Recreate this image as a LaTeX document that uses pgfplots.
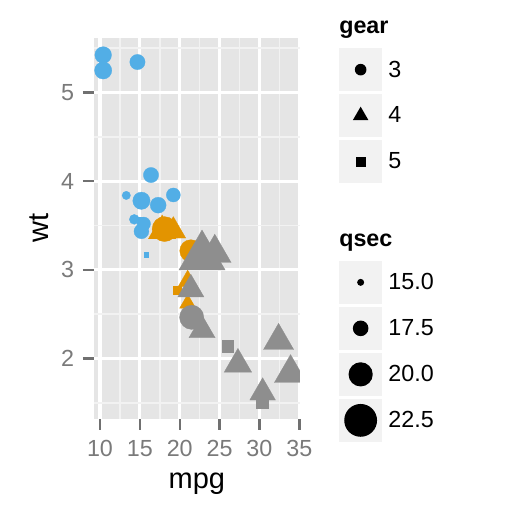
\documentclass[border=0pt]{standalone}
\usepackage{pgfplots}
\pgfplotsset{compat=1.18}
\usepackage{pgfplotstable}
\usepackage{fontspec}
\setmainfont{Liberation Sans}

\definecolor{cb}{HTML}{52AEE6}
\definecolor{co}{HTML}{E39400}
\definecolor{cg}{HTML}{8E8E8E}
\definecolor{panelbg}{HTML}{E5E5E5}
\definecolor{minorgrid}{HTML}{F2F2F2}
\definecolor{keybg}{HTML}{F2F2F2}
\definecolor{tickgrey}{HTML}{707070}
\definecolor{labgrey}{HTML}{7A7A7A}

% mtcars: mpg, wt, qsec, gear, colour/shape class (cyl + gear)
\pgfplotstableread{
mpg  wt    qsec  gear cls
21.0 2.620 16.46 4 o4
21.0 2.875 17.02 4 o4
22.8 2.320 18.61 4 g4
21.4 3.215 19.44 3 o3
18.7 3.440 17.02 3 b3
18.1 3.460 20.22 3 o3
14.3 3.570 15.84 3 b3
24.4 3.190 20.00 4 g4
22.8 3.150 22.90 4 g4
19.2 3.440 18.30 4 o4
17.8 3.440 18.90 4 o4
16.4 4.070 17.40 3 b3
17.3 3.730 17.60 3 b3
15.2 3.780 18.00 3 b3
10.4 5.250 17.98 3 b3
10.4 5.424 17.82 3 b3
14.7 5.345 17.42 3 b3
32.4 2.200 19.47 4 g4
30.4 1.615 18.52 4 g4
33.9 1.835 19.90 4 g4
21.5 2.465 20.01 3 g3
15.5 3.520 16.87 3 b3
15.2 3.435 17.30 3 b3
13.3 3.840 15.41 3 b3
19.2 3.845 17.05 3 b3
27.3 1.935 18.90 4 g4
26.0 2.140 16.70 5 g5
30.4 1.513 16.90 5 g5
15.8 3.170 14.50 5 b5
19.7 2.770 15.50 5 o5
15.0 3.570 14.60 5 b5
21.4 2.780 18.60 4 g4
}\cars

\newcommand\keybox{\path[draw=none, fill=keybg] (-21.35pt,-21.35pt) rectangle (21.35pt,21.35pt);}
\newcommand\keymark{\path[draw=none, fill=black]}
\newcommand\legtitle[1]{%
  \path[draw=none, fill=none] (-21.35pt,-15pt) rectangle (21.35pt,15pt);
  \node[overlay, draw=none, fill=none, anchor=base west, inner sep=0pt, text=black,
        font={\fontsize{23.3}{23.3}\selectfont\bfseries}] at (-21.35pt,-3.3pt) {#1};}

\begin{document}
\begin{tikzpicture}
\path[use as bounding box, fill=white] (0,0) rectangle (518pt,518pt);
\begin{axis}[
    at={(93.8pt,99pt)}, anchor=south west,
    scale only axis, width=206.1pt, height=381.3pt,
    xmin=9.225, xmax=35.075, ymin=1.31745, ymax=5.61955,
    axis background/.style={fill=panelbg},
    axis line style={draw=none},
    xtick={10,15,20,25,30,35}, minor xtick={12.5,17.5,22.5,27.5,32.5},
    ytick={2,3,4,5}, minor ytick={1.5,2.5,3.5,4.5,5.5},
    grid=both,
    major grid style={white, line width=3.2pt},
    minor grid style={minorgrid, line width=1.6pt},
    tick pos=left, tick align=outside,
    major tick length=11pt, minor tick length=0pt,
    major tick style={tickgrey, line width=2.4pt},
    ticklabel style={font=\fontsize{23.3}{23.3}\selectfont, text=labgrey, inner sep=0pt},
    /pgf/number format/assume math mode=true,
    xticklabel style={anchor=north, yshift=-10pt},
    yticklabel style={anchor=east, xshift=-8.5pt},
    xlabel={mpg}, ylabel={wt},
    label style={font=\fontsize{29}{29}\selectfont, inner sep=0pt},
    xlabel style={at={(axis description cs:0.5,-0.1817)}, anchor=base},
    ylabel style={at={(axis description cs:-0.2208,0.5)}, anchor=base, rotate=0},
    clip marker paths=true,
    legend style={at={(1.1911,1.0595)}, anchor=north west, draw=none, fill=none,
        inner sep=0pt, outer sep=0pt, row sep=3.3pt, column sep=6.5pt,
        font=\fontsize{23.3}{23.3}\selectfont, nodes={inner sep=0pt}},
    legend cell align=left,
]
\addlegendimage{legend image code/.code={\legtitle{gear}}}
\addlegendentry{\mbox{}}
\addlegendimage{legend image code/.code={\keybox\keymark (0pt,0pt) circle[radius=5.8pt];}}
\addlegendentry{3}
\addlegendimage{legend image code/.code={\keybox\keymark (90:9pt) -- (210:9pt) -- (330:9pt) -- cycle;}}
\addlegendentry{4}
\addlegendimage{legend image code/.code={\keybox\keymark (-5.14pt,-5.14pt) rectangle (5.14pt,5.14pt);}}
\addlegendentry{5}
\addlegendimage{legend image code/.code={\path[draw=none, fill=none] (-21.35pt,-19.05pt) rectangle (21.35pt,19.05pt);}}
\addlegendentry{\mbox{}}
\addlegendimage{legend image code/.code={\legtitle{qsec}}}
\addlegendentry{\mbox{}}
\addlegendimage{legend image code/.code={\keybox\keymark (0pt,0pt) circle[radius=3.5pt];}}
\addlegendentry{15.0}
\addlegendimage{legend image code/.code={\keybox\keymark (0pt,0pt) circle[radius=7.8pt];}}
\addlegendentry{17.5}
\addlegendimage{legend image code/.code={\keybox\keymark (0pt,0pt) circle[radius=12.1pt];}}
\addlegendentry{20.0}
\addlegendimage{legend image code/.code={\keybox\keymark (0pt,0pt) circle[radius=16.4pt];}}
\addlegendentry{22.5}

% size: circle diameter in px grows linearly with qsec
\addplot[scatter, only marks, point meta=explicit symbolic,
    visualization depends on={(7+3.44*(\thisrow{qsec}-15))/2 \as \rad},
    scatter/classes={
      b3={mark=*, draw=cb, fill=cb, mark size={\rad}},
      b5={mark=square*, draw=cb, fill=cb, mark size={0.886*\rad}},
      o3={mark=*, draw=co, fill=co, mark size={\rad}},
      o4={mark=triangle*, draw=co, fill=co, mark size={1.555*\rad}},
      o5={mark=square*, draw=co, fill=co, mark size={0.886*\rad}},
      g3={mark=*, draw=cg, fill=cg, mark size={\rad}},
      g4={mark=triangle*, draw=cg, fill=cg, mark size={1.555*\rad}},
      g5={mark=square*, draw=cg, fill=cg, mark size={0.886*\rad}}},
    mark options={line width=0.3pt}]
  table[x=mpg, y=wt, meta=cls] {\cars};
\end{axis}
\end{tikzpicture}
\end{document}
